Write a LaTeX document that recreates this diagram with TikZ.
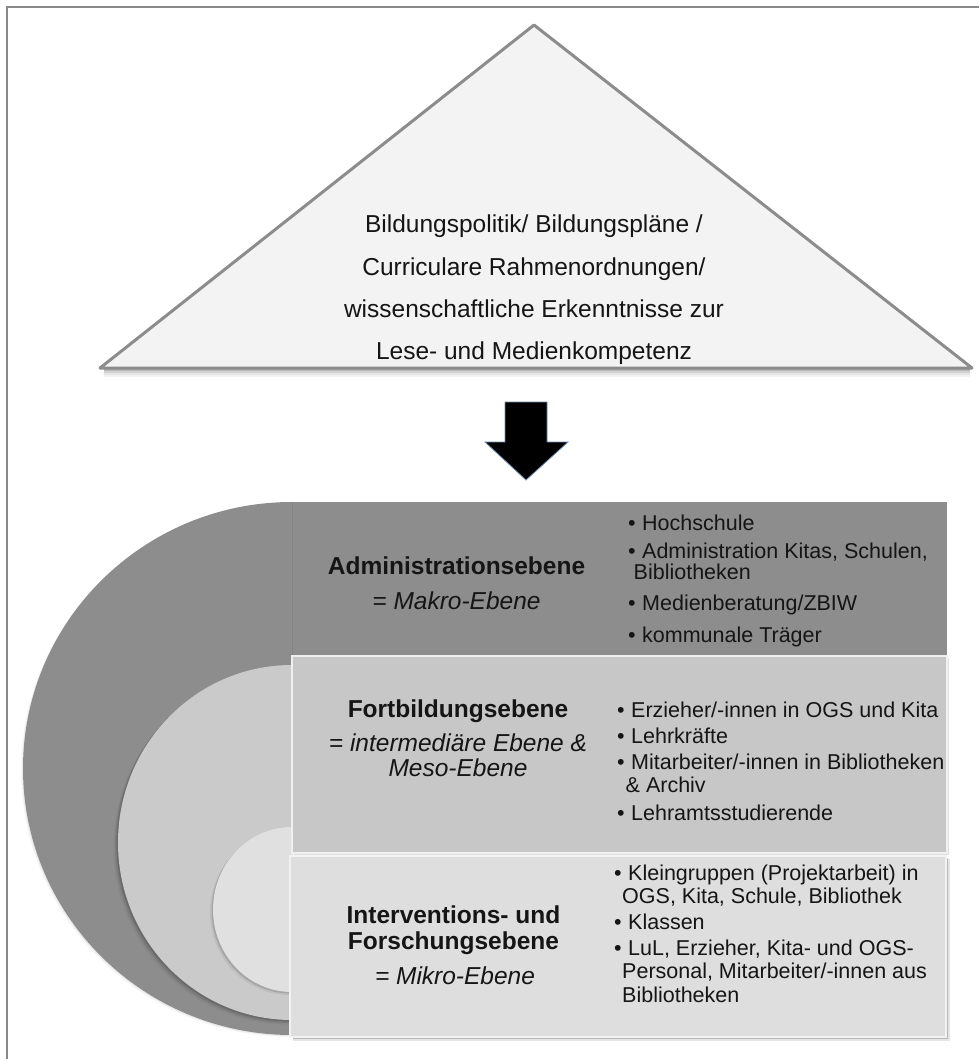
\documentclass[tikz,border=0pt]{standalone}
\usepackage{fontspec}
\setmainfont{Liberation Sans}
\begin{document}
\begin{tikzpicture}[x=1pt,y=-1pt]
\definecolor{frameline}{HTML}{8A8A8A}
\definecolor{trifill}{HTML}{F3F3F3}
\definecolor{triline}{HTML}{8C8C8C}
\definecolor{makro}{HTML}{8D8D8D}
\definecolor{meso}{HTML}{C7C7C7}
\definecolor{mesocirc}{HTML}{CACACA}
\definecolor{mikro}{HTML}{DEDEDE}
\definecolor{mikrocirc}{HTML}{E0E0E0}
\definecolor{inktext}{HTML}{151515}
\definecolor{glow}{HTML}{6C8AB0}
\newcommand{\bulletmark}{\textbullet\hspace{0.3em}}
\tikzset{
  tritext/.style={font=\fontsize{24.5}{29}\selectfont, text=inktext, anchor=base, inner sep=0pt},
  lvltitle/.style={font=\fontsize{24.5}{27}\selectfont\bfseries, text=inktext, anchor=base, inner sep=0pt},
  lvlsub/.style={font=\fontsize{24.5}{27}\selectfont\itshape, text=inktext, anchor=base, inner sep=0pt},
  bul/.style={font=\fontsize{21.5}{23}\selectfont, text=inktext, anchor=base west, inner sep=0pt}
}
\path[use as bounding box] (0,0) rectangle (979,1059);

% outer frame (top and left edges)
\draw[frameline, line width=2] (7,1059) -- (7,7) -- (979,7);

% triangle with soft shadow under its base
\foreach \d/\o in {2/0.28,4/0.18,6/0.10,8/0.05}
  \draw[black, opacity=\o, line width=2] (104,368+\d) -- (970,368+\d);
\draw[triline, line width=3, fill=trifill, line join=round] (534,25) -- (972,368) -- (100,368) -- cycle;
\node[tritext] (t1) at (534,233) {Bildungspolitik/ Bildungspläne /};
\node[tritext] (t2) at (534,275) {Curriculare Rahmenordnungen/};
\node[tritext] (t3) at (534,317) {wissenschaftliche Erkenntnisse zur};
\node[tritext] (t4) at (534,359) {Lese- und Medienkompetenz};

% block arrow
\fill[black, draw=glow, line width=0.8, line join=miter]
  (505,402) -- (547,402) -- (547,442) -- (568,442) -- (526,480) -- (485,442) -- (505,442) -- cycle;

% nested half discs on the left
\begin{scope}
  \clip (0,0) rectangle (292,1059);
  \foreach \d/\o in {1/0.05,2/0.03}
    \fill[black, opacity=\o] (292-\d,768.5+\d) ellipse[x radius=269, y radius=266.5];
  \fill[makro] (292,768.5) ellipse[x radius=269, y radius=266.5];
  \foreach \d/\o in {1.5/0.14,3/0.08,4.5/0.04}
    \fill[black, opacity=\o] (292-\d,842.5+\d) ellipse[x radius=174, y radius=177.5];
  \fill[mesocirc] (292,842.5) ellipse[x radius=174, y radius=177.5];
  \foreach \d/\o in {1.5/0.12,3/0.06}
    \fill[black, opacity=\o] (292-\d,909.5+\d) ellipse[x radius=79, y radius=82.5];
  \fill[mikrocirc] (292,909.5) ellipse[x radius=79, y radius=82.5];
\end{scope}

% level panels
\fill[makro] (292,502) rectangle (947,656);
\draw[black, opacity=0.06, line width=0.8] (292,502) -- (292,656);
\fill[black, opacity=0.12] (294,658) rectangle (949,855);
\filldraw[fill=meso, draw=white!94!black, line width=1.5] (292,656) rectangle (947,853);
\fill[black, opacity=0.10] (293,859) rectangle (950,1041);
\fill[black, opacity=0.20] (293,858) rectangle (948,1039);
\filldraw[fill=mikro, draw=white!95!black, line width=1.5] (290,856) rectangle (946,1037);

% Makro level
\node[lvltitle] (mk-title) at (456.5,574) {Administrationsebene};
\node[lvlsub] (mk-sub) at (456.5,609) {= Makro-Ebene};
\node[bul] (mk1) at (628,530) {\bulletmark Hochschule};
\node[bul] (mk2) at (628,558) {\bulletmark Administration Kitas, Schulen,};
\node[bul] (mk3) at (633.5,579) {Bibliotheken};
\node[bul] (mk4) at (628,610) {\bulletmark Medienberatung/ZBIW};
\node[bul] (mk5) at (628,642) {\bulletmark kommunale Träger};

% Meso level
\node[lvltitle] (ms-title) at (458,717) {Fortbildungsebene};
\node[lvlsub] (ms-sub1) at (458,751) {= intermediäre Ebene \&};
\node[lvlsub] (ms-sub2) at (458,776) {Meso-Ebene};
\node[bul] (ms1) at (617,717) {\bulletmark Erzieher/-innen in OGS und Kita};
\node[bul] (ms2) at (617,743) {\bulletmark Lehrkräfte};
\node[bul] (ms3) at (617,769) {\bulletmark Mitarbeiter/-innen in Bibliotheken};
\node[bul] (ms4) at (625.5,792) {\& Archiv};
\node[bul] (ms5) at (617,820) {\bulletmark Lehramtsstudierende};

% Mikro level
\node[lvltitle] (mi-title1) at (453.5,923) {Interventions- und};
\node[lvltitle] (mi-title2) at (453.5,949) {Forschungsebene};
\node[lvlsub] (mi-sub) at (455,984) {= Mikro-Ebene};
\node[bul] (mi1) at (614,880) {\bulletmark Kleingruppen (Projektarbeit) in};
\node[bul] (mi2) at (622,903) {OGS, Kita, Schule, Bibliothek};
\node[bul] (mi3) at (614,929) {\bulletmark Klassen};
\node[bul] (mi4) at (614,955) {\bulletmark LuL, Erzieher, Kita- und OGS-};
\node[bul] (mi5) at (622,978) {Personal, Mitarbeiter/-innen aus};
\node[bul] (mi6) at (622,1002) {Bibliotheken};
\end{tikzpicture}
\end{document}
